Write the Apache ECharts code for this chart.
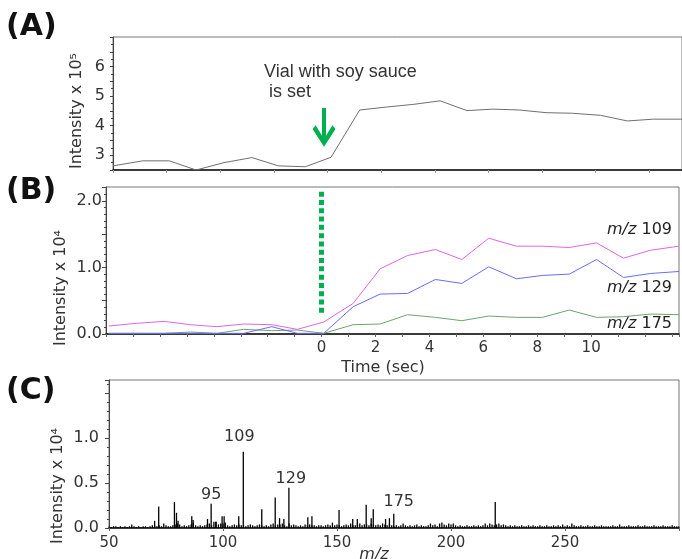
<!DOCTYPE html>
<html><head><meta charset="utf-8">
<script src="https://cdn.jsdelivr.net/npm/echarts@6/dist/echarts.min.js"></script>
<style>html,body{margin:0;padding:0;background:#fff}#c{width:682px;height:559px}</style>
</head><body><div id="c"></div>
<script>
// ---- Panel A: total ion intensity (x 10^5) vs time ----
const timeA = [-8.0,-6.89,-5.9,-4.9,-3.86,-2.82,-1.83,-0.83,0.13,1.2,2.2,3.2,4.2,5.2,6.18,7.15,8.15,9.14,10.18,11.18,12.15,13.22];
const intensityA = [2.64,2.81,2.81,2.50,2.75,2.92,2.64,2.61,2.93,4.53,4.63,4.72,4.84,4.51,4.56,4.53,4.44,4.42,4.35,4.16,4.22,4.22];
const yLabelsA = [3,4,5,6];

// ---- Panel B: extracted ion intensities (x 10^4) vs time ----
const timeB = [-7.9,-6.88,-5.84,-4.86,-3.89,-2.89,-1.85,-0.9,0.08,1.17,2.17,3.19,4.22,5.2,6.2,7.23,8.19,9.19,10.2,11.2,12.21,13.26];
const mz109 = [0.12,0.16,0.19,0.14,0.11,0.15,0.14,0.07,0.18,0.46,0.98,1.18,1.27,1.12,1.44,1.32,1.32,1.30,1.37,1.14,1.26,1.32];
const mz129 = [0.01,0.01,0.01,0.01,0.01,0.01,0.11,0.01,0.01,0.41,0.60,0.61,0.82,0.76,1.01,0.83,0.88,0.90,1.12,0.85,0.91,0.94];
const mz175 = [0.01,0.01,0.01,0.03,0.01,0.07,0.05,0.06,0.01,0.14,0.15,0.29,0.25,0.20,0.27,0.25,0.25,0.36,0.25,0.26,0.30,0.29];
const xLabelsB = [0,2,4,6,8,10];
const yLabelsB = [0,1,2];
const vialTime = 0;

// ---- Panel C: mass spectrum (x 10^4) ----
const peaksC = [[70.0,0.08],[71.8,0.24],[78.7,0.29],[79.6,0.17],[80.3,0.08],[86.3,0.13],[86.9,0.09],[93.2,0.10],[96.8,0.07],[99.6,0.13],[100.5,0.13],[106.9,0.13],[117.0,0.21],[122.9,0.34],[124.8,0.11],[126.7,0.10],[137.2,0.12],[139.0,0.13],[150.9,0.20],[156.9,0.10],[158.9,0.10],[162.8,0.26],[165.0,0.11],[165.9,0.21],[171.3,0.10],[173.0,0.11],[219.4,0.29]];
const labeledPeaksC = [[94.8,0.27,'95'],[108.9,0.85,'109'],[128.9,0.45,'129'],[174.9,0.16,'175']];
const noiseStartC = 50;
const noiseHeightsC = [
 .02,.01,.02,.02,.01,.02,.01,.02,.01,.02,
 .04,.02,.01,.02,.01,.02,.02,.01,.02,.03,
 .03,.02,.03,.02,.05,.03,.02,.02,.03,.04,
 .05,.04,.02,.03,.02,.03,.04,.06,.03,.02,
 .03,.02,.03,.04,.05,.03,.07,.07,.04,.05,
 .05,.06,.03,.02,.03,.04,.03,.04,.03,.03,
 .02,.03,.04,.03,.02,.03,.04,.03,.02,.03,
 .02,.04,.05,.03,.04,.04,.05,.03,.02,.05,
 .03,.04,.03,.02,.03,.02,.04,.03,.04,.03,
 .03,.02,.03,.03,.02,.03,.04,.03,.06,.03,
 .04,.03,.02,.03,.04,.03,.05,.03,.03,.04,
 .05,.03,.04,.04,.03,.05,.04,.03,.04,.03,
 .05,.04,.03,.04,.03,.02,.03,.02,.03,.05,
 .03,.02,.03,.02,.03,.04,.02,.03,.02,.02,
 .03,.05,.03,.04,.02,.05,.06,.04,.03,.05,
 .04,.05,.03,.02,.03,.02,.02,.03,.02,.02,
 .03,.02,.03,.02,.03,.05,.03,.05,.04,.03,
 .04,.05,.03,.04,.03,.02,.03,.02,.03,.02,
 .02,.03,.02,.02,.03,.02,.03,.02,.02,.03,
 .02,.02,.03,.02,.02,.03,.02,.03,.02,.04,
 .02,.03,.02,.05,.03,.02,.02,.03,.02,.02,
 .03,.02,.02,.03,.02,.02,.03,.02,.02,.02,
 .02,.03,.02,.02,.04,.02,.02,.02,.03,.02,
 .02,.02,.03,.02,.02,.03,.02,.02,.02,.03,
 .02,.02,.02,.03,.02,.02,.02,.03,.02,.02,
 .02];
const xLabelsC = [50,100,150,200,250];
const yLabelsC = [0,0.5,1.0];

const FONT = 'DejaVu Sans';
const TXT = '#333';

function pairs(xs, ys){ return xs.map((x,i)=>[x, ys[i]]); }
const near = (v, list) => list.some(l => Math.abs(v - l) < 1e-6);

const spectrum = [];
noiseHeightsC.forEach((h,i)=>spectrum.push([noiseStartC + i, h]));
peaksC.forEach(p=>spectrum.push([p[0], p[1]]));
const labelOffsets = {'95':[0,0],'109':[-4,-6],'129':[2,0],'175':[5,-3]};
labeledPeaksC.forEach(p=>spectrum.push({
  value:[p[0], p[1]],
  label:{show:true, position:'top', distance:1, formatter:p[2], fontSize:16, fontFamily:FONT, color:TXT, offset:labelOffsets[p[2]]}
}));

const chart = echarts.init(document.getElementById('c'), null, {renderer:'canvas'});
const tickLabel = {fontFamily:FONT, fontSize:15, color:TXT};

const option = {
  animation:false,
  backgroundColor:'#fff',
  textStyle:{fontFamily:FONT},
  grid:[
    {left:113, top:37, width:574, height:133, show:true, borderColor:'#777', borderWidth:1},
    {left:106, top:187, width:581, height:147, show:true, borderColor:'#777', borderWidth:1},
    {left:109, top:380, width:571, height:148, show:true, borderColor:'#777', borderWidth:1}
  ],
  xAxis:[
    {gridIndex:0, type:'value', min:-8, max:13.22, interval:2,
     axisLine:{show:true, onZero:false, lineStyle:{color:'#111', width:1.5}},
     axisTick:{show:true, length:3, lineStyle:{color:'#999'}},
     axisLabel:{show:false}, splitLine:{show:false}},
    {gridIndex:1, type:'value', min:-8, max:13.26, interval:1,
     axisLine:{show:true, onZero:false, lineStyle:{color:'#111', width:1.5}},
     axisTick:{show:true, length:3, lineStyle:{color:'#666'}},
     axisLabel:Object.assign({margin:7, formatter:v=> near(v, xLabelsB) ? String(Math.round(v)) : ''}, tickLabel),
     splitLine:{show:false}},
    {gridIndex:2, type:'value', min:50, max:300, interval:50,
     axisLine:{show:true, onZero:false, lineStyle:{color:'#111', width:1.5}},
     axisTick:{show:true, length:3, lineStyle:{color:'#666'}},
     axisLabel:Object.assign({margin:8, formatter:v=> near(v, xLabelsC) ? String(v) : ''}, tickLabel),
     splitLine:{show:false}}
  ],
  yAxis:[
    {gridIndex:0, type:'value', min:2.5, max:7.0, interval:0.5,
     axisLine:{show:true, onZero:false, lineStyle:{color:'#444', width:1}},
     axisTick:{show:true, length:3, lineStyle:{color:'#444'}},
     minorTick:{show:true, splitNumber:2, length:2, lineStyle:{color:'#444'}},
     axisLabel:{margin:8, fontSize:16, fontFamily:FONT, color:TXT, formatter:v=> near(v, yLabelsA) ? String(Math.round(v)) : ''},
     splitLine:{show:false}},
    {gridIndex:1, type:'value', min:0, max:2.21, interval:0.5,
     axisLine:{show:true, onZero:false, lineStyle:{color:'#444', width:1}},
     axisTick:{show:true, length:4, lineStyle:{color:'#444'}},
     minorTick:{show:true, splitNumber:5, length:2, lineStyle:{color:'#444'}},
     axisLabel:{margin:4, fontSize:16, fontFamily:FONT, color:TXT, formatter:v=> near(v, yLabelsB) ? v.toFixed(1) : ''},
     splitLine:{show:false}},
    {gridIndex:2, type:'value', min:0, max:1.65, interval:0.5,
     axisLine:{show:true, onZero:false, lineStyle:{color:'#444', width:1}},
     axisTick:{show:true, length:4, lineStyle:{color:'#444'}},
     minorTick:{show:true, splitNumber:5, length:2, lineStyle:{color:'#444'}},
     axisLabel:{margin:10, fontSize:16, fontFamily:FONT, color:TXT, formatter:v=> near(v, yLabelsC) ? v.toFixed(1) : ''},
     splitLine:{show:false}}
  ],
  series:[
    {type:'line', xAxisIndex:0, yAxisIndex:0, data:pairs(timeA, intensityA), showSymbol:false,
     lineStyle:{color:'#6f6f6f', width:1}, z:3,
     markLine:{silent:true, animation:false, label:{show:false},
       symbol:['none','path://M11,0L22,16L19,19.5L11,7L3,19.5L0,16Z M9.2,3L12.8,3L12.8,20L9.2,20Z'],
       symbolSize:[23,22],
       lineStyle:{color:'#00b050', width:4, type:'solid'},
       data:[[{coord:[-0.13, 4.6]},{coord:[-0.13, 3.66]}]]}},
    {type:'line', xAxisIndex:1, yAxisIndex:1, data:pairs(timeB, mz175), showSymbol:false,
     lineStyle:{color:'#6fa36f', width:1}, z:3},
    {type:'line', xAxisIndex:1, yAxisIndex:1, data:pairs(timeB, mz129), showSymbol:false,
     lineStyle:{color:'#6b6bff', width:1}, z:3},
    {type:'line', xAxisIndex:1, yAxisIndex:1, data:pairs(timeB, mz109), showSymbol:false,
     lineStyle:{color:'#e266e2', width:1}, z:4,
     markLine:{silent:true, animation:false, symbol:'none', label:{show:false},
       lineStyle:{color:'#00b050', width:5, type:[5,3.3], cap:'butt'},
       data:[[{coord:[vialTime, 2.14]},{coord:[vialTime, 0.28]}]]}},
    {type:'bar', xAxisIndex:2, yAxisIndex:2, data:spectrum, barWidth:1.3,
     itemStyle:{color:'#000'}, z:3}
  ],
  graphic:[
    {type:'text', left:6, top:12, style:{text:'(A)', font:'bold 30px "DejaVu Sans"', fill:'#111'}},
    {type:'text', left:6, top:176, style:{text:'(B)', font:'bold 30px "DejaVu Sans"', fill:'#111'}},
    {type:'text', left:6, top:376, style:{text:'(C)', font:'bold 30px "DejaVu Sans"', fill:'#111'}},
    {type:'text', x:77, y:111, rotation:Math.PI/2,
     style:{text:'Intensity x 10⁵', font:'16px "DejaVu Sans"', fill:TXT, textAlign:'center', textVerticalAlign:'middle'}},
    {type:'text', x:61, y:288, rotation:Math.PI/2,
     style:{text:'Intensity x 10⁴', font:'16px "DejaVu Sans"', fill:TXT, textAlign:'center', textVerticalAlign:'middle'}},
    {type:'text', x:58, y:486, rotation:Math.PI/2,
     style:{text:'Intensity x 10⁴', font:'16px "DejaVu Sans"', fill:TXT, textAlign:'center', textVerticalAlign:'middle'}},
    {type:'text', x:264, y:62,
     style:{text:'Vial with soy sauce\n is set', font:'18px "Liberation Sans"', lineHeight:20, fill:TXT, textAlign:'left', textVerticalAlign:'top'}},
    {type:'text', x:383, y:368,
     style:{text:'Time (sec)', font:'16px "DejaVu Sans"', fill:TXT, textAlign:'center', textVerticalAlign:'middle'}},
    {type:'text', x:374, y:555,
     style:{text:'m/z', font:'italic 16px "DejaVu Sans"', fill:TXT, textAlign:'center', textVerticalAlign:'middle'}},
    {type:'text', x:672, y:230,
     style:{text:'{i|m/z} 109', font:'16px "DejaVu Sans"', fill:'#222', textAlign:'right', textVerticalAlign:'middle',
            rich:{i:{fontStyle:'italic', fontSize:16, fontFamily:FONT, fill:'#222'}}}},
    {type:'text', x:672, y:288,
     style:{text:'{i|m/z} 129', font:'16px "DejaVu Sans"', fill:'#222', textAlign:'right', textVerticalAlign:'middle',
            rich:{i:{fontStyle:'italic', fontSize:16, fontFamily:FONT, fill:'#222'}}}},
    {type:'text', x:672, y:324,
     style:{text:'{i|m/z} 175', font:'16px "DejaVu Sans"', fill:'#222', textAlign:'right', textVerticalAlign:'middle',
            rich:{i:{fontStyle:'italic', fontSize:16, fontFamily:FONT, fill:'#222'}}}}
  ]
};
chart.setOption(option);
</script>
</body></html>
